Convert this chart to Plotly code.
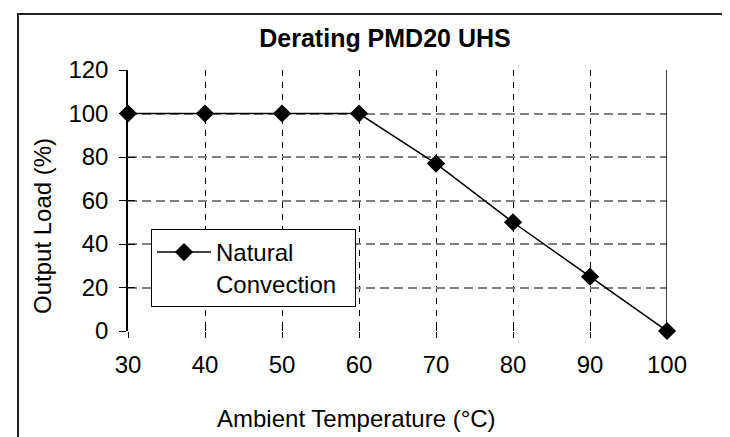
import plotly.graph_objects as go

temps = [30, 40, 50, 60, 70, 80, 90, 100]
load = [100, 100, 100, 100, 77, 50, 25, 0]
series_name = "Natural<br>Convection"
x_ticks = [30, 40, 50, 60, 70, 80, 90, 100]
y_ticks = [0, 20, 40, 60, 80, 100, 120]

FONT = "Liberation Sans, Arial, sans-serif"
FS = 24

fig = go.Figure()
fig.add_trace(go.Scatter(
    x=temps, y=load, name=series_name + "\u00a0\u00a0", mode="lines+markers",
    line=dict(color="black", width=1.5),
    marker=dict(symbol="diamond", size=14, color="black"),
    cliponaxis=False,
))

fig.update_layout(
    width=730, height=437,
    margin=dict(l=120, r=71, t=62, b=114),
    paper_bgcolor="white", plot_bgcolor="white",
    font=dict(family=FONT, color="black", size=FS),
    title=dict(text="<b>Derating PMD20 UHS</b>",
               font=dict(family="Liberation Sans Narrow, Arial Narrow, Liberation Sans, sans-serif", size=25, color="black"),
               x=377/730, xanchor="center", y=1-30/437, yanchor="middle"),
    showlegend=True,
    legend=dict(x=(143-120)/539, y=(323-221)/261, xanchor="left", yanchor="top",
                bgcolor="white", bordercolor="black", borderwidth=1,
                font=dict(family=FONT, size=FS), itemwidth=54, valign="top",
                tracegroupgap=0),
    xaxis=dict(range=[30, 100], tickvals=x_ticks, ticktext=[str(v) for v in x_ticks],
               showgrid=True, gridcolor="black", griddash="6px,6px", gridwidth=1,
               zeroline=False, showline=False,
               ticks="outside", ticklen=6, tickcolor="black", ticklabelstandoff=6,
               tickfont=dict(size=FS)),
    yaxis=dict(range=[0, 120], tickvals=y_ticks,
               showgrid=True, gridcolor="#808080", griddash="9px,5px", gridwidth=1.5,
               zeroline=False, showline=True, linecolor="black", linewidth=1.5,
               ticks="outside", ticklen=7, tickcolor="black", ticklabelstandoff=6,
               tickfont=dict(size=FS)),
    xaxis2=dict(overlaying="x", matches="x", anchor="y", side="bottom", range=[30, 100],
                tickvals=x_ticks, showticklabels=False, showgrid=False, zeroline=False,
                ticks="inside", ticklen=5, tickcolor="black", showline=False),
    yaxis2=dict(overlaying="y", matches="y", anchor="x", side="left", range=[0, 120],
                tickvals=y_ticks, showticklabels=False, showgrid=False, zeroline=False,
                ticks="inside", ticklen=7, tickcolor="black", showline=False),
)

# dummy trace to activate overlay axes for inside ticks
fig.add_trace(go.Scatter(x=[None], y=[None], xaxis="x2", yaxis="y2", showlegend=False, hoverinfo="skip"))

# right border of plot area (solid)
fig.add_shape(type="line", xref="x", yref="paper", x0=100, x1=100, y0=0, y1=1,
              line=dict(color="black", width=1.5))

# axis titles
fig.add_annotation(text="Ambient Temperature (°C)", xref="paper", yref="paper",
                   x=(348-120)/539, y=-(410-323)/261, xanchor="center", yanchor="middle",
                   showarrow=False, font=dict(size=FS))
fig.add_annotation(text="Output Load (%)", xref="paper", yref="paper",
                   x=-(120-35)/539, y=(323-218)/261, xanchor="center", yanchor="middle",
                   textangle=-90, showarrow=False, font=dict(size=FS))

# outer chart frame (left and top visible)
fig.add_shape(type="rect", xref="paper", yref="paper",
              x0=(10-120)/539, x1=3, y0=-3, y1=(323-6)/261,
              line=dict(color="#222", width=2), layer="below")

fig.write_html("out.html")
